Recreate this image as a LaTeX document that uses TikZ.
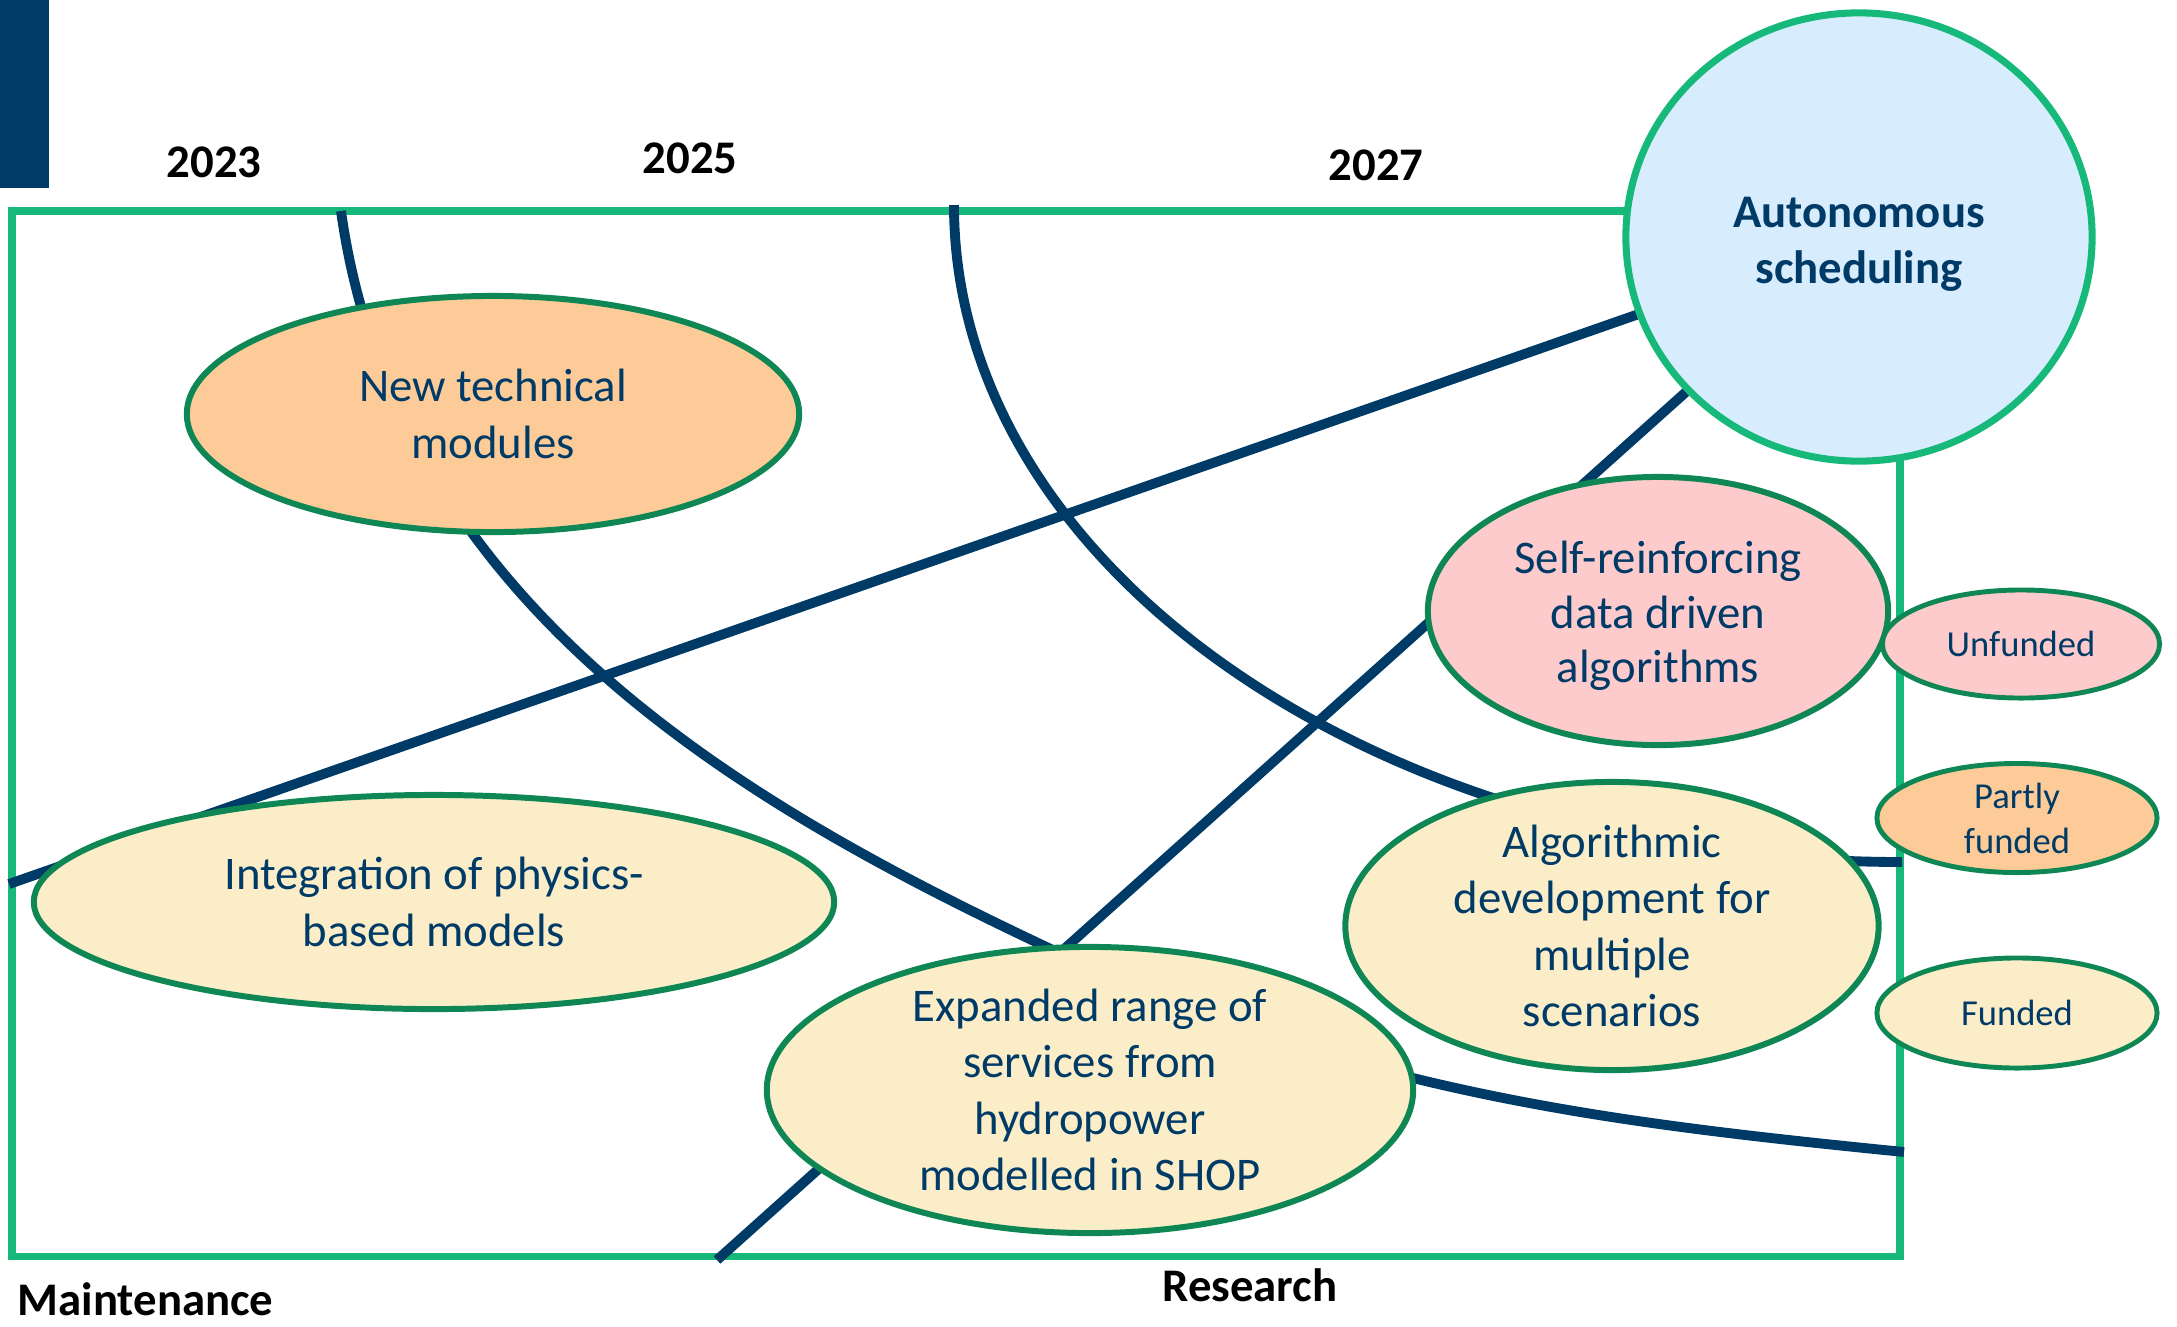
\documentclass[tikz,border=0pt]{standalone}
\usepackage{fontspec}
\setmainfont{Carlito}
\usetikzlibrary{shapes.geometric,backgrounds}
\definecolor{navy}{HTML}{003A66}
\definecolor{framegreen}{HTML}{16B979}
\definecolor{ringgreen}{HTML}{0E8755}
\definecolor{orangefill}{HTML}{FDCB98}
\definecolor{pinkfill}{HTML}{FDCBCB}
\definecolor{creamfill}{HTML}{FAEDC8}
\definecolor{skyfill}{HTML}{D7ECFD}
\newcommand{\bodytext}{\fontsize{13.3}{16}\selectfont}
\newcommand{\keytext}{\fontsize{10.4}{12.8}\selectfont}

\begin{document}
\begin{tikzpicture}[x=0.01cm, y=-0.01cm,
    topic/.style={ellipse, draw=ringgreen, line width=1.7pt, text=navy, align=center, inner sep=0pt, font=\bodytext},
    keyitem/.style={ellipse, draw=ringgreen, line width=1.4pt, text=navy, align=center, inner sep=0pt, font=\keytext, minimum width=2.8cm, minimum height=1.09cm},
    yearlabel/.style={anchor=base, inner sep=0pt, font=\bodytext\bfseries},
    frame/.style={draw=framegreen, line width=2pt},
    track/.style={draw=navy, line width=2.8pt}]
        \useasboundingbox (0,0) rectangle (2177,1326);

        % Corner block
        \fill[navy] (0,0) rectangle (49,188);

        % Year labels
        \node[yearlabel] (y2023) at (214,177) {2023};
        \node[yearlabel] (y2025) at (690,173) {2025};
        \node[yearlabel] (y2027) at (1376,180) {2027};

        % Goal and topics
        \node[ellipse, draw=framegreen, line width=2pt, fill=skyfill, inner sep=0pt,
              minimum width=4.66cm, minimum height=4.48cm] (auto) at (1859,237) {};
        \node[text=navy, align=center, inner sep=0pt, font=\bodytext\bfseries] (autolabel) at (1859,244) {Autonomous\\scheduling};
        \node[topic, fill=orangefill, minimum width=6.12cm, minimum height=2.36cm] (newmod) at (493,414) {New technical\\modules};
        \node[topic, fill=creamfill, minimum width=8.0cm, minimum height=2.14cm] (physics) at (434,902) {Integration of physics-\\based models};
        \node[topic, fill=creamfill, minimum width=6.46cm, minimum height=2.86cm] (services) at (1090,1090) {Expanded range of\\services from\\hydropower\\modelled in SHOP};
        \node[topic, fill=pinkfill, minimum width=4.6cm, minimum height=2.68cm, font=\fontsize{13.3}{15.6}\selectfont] (selfdata) at (1658,611) {\rule{0pt}{12pt}Self-reinforcing\\data driven\\algorithms};
        \node[topic, fill=creamfill, minimum width=5.33cm, minimum height=2.88cm] (scenarios) at (1612,926) {Algorithmic\\development for\\multiple\\scenarios};

        % Legend
        \node[keyitem, fill=pinkfill, minimum width=2.77cm, minimum height=1.08cm] (unfunded) at (2021,644) {Unfunded};
        \node[keyitem, fill=orangefill] (partly) at (2017,818) {Partly\\funded};
        \node[keyitem, fill=creamfill, minimum height=1.1cm] (funded) at (2017,1013) {Funded};

        % Axis labels
        \node[anchor=base west, inner sep=0pt, font=\bodytext\bfseries] (maint) at (17,1315) {Maintenance};
        \node[anchor=base, inner sep=0pt, font=\bodytext\bfseries] (research) at (1250,1301) {Research};

        % Free ends of the tracks
        \coordinate (cstart) at (9,884);
        \coordinate (dstart) at (717,1260);
        \coordinate (atop) at (341,211);
        \coordinate (amid) at (1055,951);
        \coordinate (aend) at (1904,1152);
        \coordinate (btop) at (954,205);
        \coordinate (bend) at (1902,862);

        % Frame and tracks behind the topics
        \begin{scope}[on background layer]
            \draw[frame] (12,211) rectangle (1900,1256);
            \draw[track] (cstart) -- (auto);
            \draw[track] (dstart) -- (auto);
            \draw[track] (btop) .. controls (954,568) and (1378,862) .. (bend);
            \draw[track] (atop) .. controls (397,611) and (755,810) .. (amid)
                                .. controls (1355,1092) and (1604,1122) .. (aend);
        \end{scope}
    \end{tikzpicture}
\end{document}
